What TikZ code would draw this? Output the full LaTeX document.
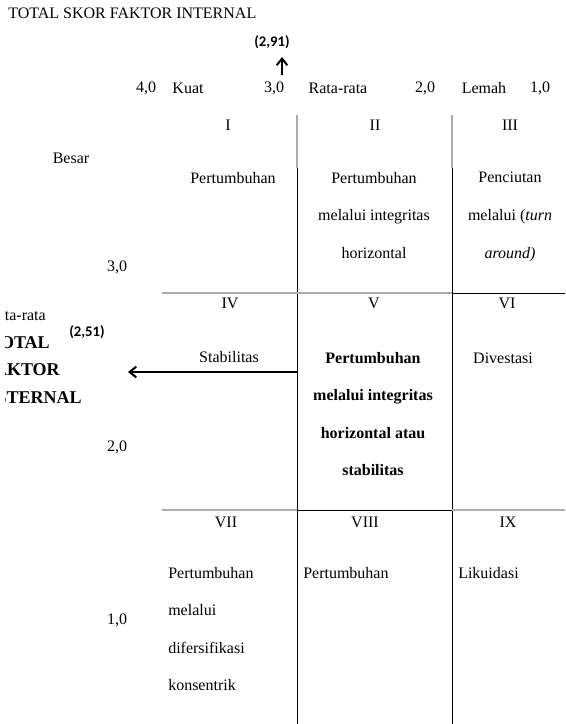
\documentclass[tikz,border=0pt]{standalone}
\usepackage{fontspec}
\setmainfont{Liberation Serif}
\newfontfamily\carlitofont{Carlito}
\usetikzlibrary{arrows.meta}
\tikzset{
  txt/.style={inner sep=0pt, font=\fontsize{12}{14}\selectfont},
  cell/.style={inner sep=0pt, align=center, font=\fontsize{12}{28.2}\selectfont},
  celll/.style={inner sep=0pt, align=left, anchor=west, font=\fontsize{12}{28.2}\selectfont},
  boldcell/.style={inner sep=0pt, align=center, font=\fontsize{12}{28.2}\selectfont\bfseries},
  sidebold/.style={inner sep=0pt, anchor=east, font=\fontsize{13.5}{15}\selectfont\bfseries},
  val/.style={inner sep=0pt, font=\fontsize{11}{13}\selectfont\carlitofont\bfseries},
  grayline/.style={draw=gray!65, line width=1pt},
  blackline/.style={draw=black, line width=0.75pt},
  valarrow/.style={line width=1.5pt, -{Straight Barb[length=5pt,width=8pt]}},
}
\begin{document}
\begin{tikzpicture}[x=0.75pt,y=-0.75pt]
\useasboundingbox (0,0) rectangle (565,724);
% grid lines
\draw[grayline] (297,115) -- (297,168);
\draw[blackline] (297,168) -- (297,724);
\draw[grayline] (452,115) -- (452,168);
\draw[blackline] (452,168) -- (452,724);
\draw[grayline] (162,293) -- (452,293);
\draw[blackline] (452,293) -- (565,293);
\draw[grayline] (162,510) -- (297,510);
\draw[blackline] (297,510) -- (452,510);
\draw[grayline] (452,510) -- (565,510);
% title and header
\node[txt, anchor=west] (title) at (8,13) {TOTAL SKOR FAKTOR INTERNAL};
\node[val] (v291) at (272,42) {(2,91)};
\node[txt] (h40) at (146,88) {4,0};
\node[txt] (hkuat) at (188,88) {Kuat};
\node[txt] (h30) at (274,88) {3,0};
\node[txt] (hrata) at (338,88) {Rata-rata};
\node[txt] (h20) at (425,88) {2,0};
\node[txt] (hlemah) at (484,88) {Lemah};
\node[txt] (h10) at (540,88) {1,0};
\coordinate (up0) at (282,75);
\coordinate (up1) at (282,57);
\draw[valarrow] (up0) -- (up1);
% left axis
\node[txt] (besar) at (71,158) {Besar};
\node[txt] (l30) at (117,267) {3,0};
\node[txt] (l20) at (117,447) {2,0};
\node[txt] (l10) at (117,620) {1,0};
\begin{scope}
\clip (5,0) rectangle (160,724);
\node[txt, anchor=east] (lrata) at (46,315) {Rata-rata};
\node[sidebold] (s1) at (50,343) {TOTAL};
\node[sidebold] (s2) at (60,370) {FAKTOR};
\node[sidebold] (s3) at (82,398) {EKSTERNAL};
\end{scope}
\node[val] (v251) at (87,332) {(2,51)};
\coordinate (lf0) at (297,372);
\coordinate (lf1) at (128,372);
\draw[valarrow] (lf0) -- (lf1);
% roman numerals
\node[txt] (r1) at (228,125) {I};
\node[txt] (r2) at (375,125) {II};
\node[txt] (r3) at (510,125) {III};
\node[txt] (r4) at (230,303) {IV};
\node[txt] (r5) at (374,303) {V};
\node[txt] (r6) at (507,303) {VI};
\node[txt] (r7) at (226,522) {VII};
\node[txt] (r8) at (365,522) {VIII};
\node[txt] (r9) at (508,522) {IX};
% cell texts
\node[cell] (c1) at (233,178) {Pertumbuhan};
\node[cell] (c2) at (374,215.5) {Pertumbuhan\\melalui integritas\\horizontal};
\node[cell] (c3) at (510,217) {Penciutan\\melalui (\textit{turn}\\\textit{around)}};
\node[cell] (c4) at (229,357) {Stabilitas};
\node[boldcell] (c5) at (373,414) {Pertumbuhan\\melalui integritas\\horizontal atau\\stabilitas};
\node[cell] (c6) at (503,358) {Divestasi};
\node[celll] (c7) at (168,629) {Pertumbuhan\\melalui\\difersifikasi\\konsentrik};
\node[celll] (c8) at (303,573) {Pertumbuhan};
\node[celll] (c9) at (458,573) {Likuidasi};
\end{tikzpicture}
\end{document}
